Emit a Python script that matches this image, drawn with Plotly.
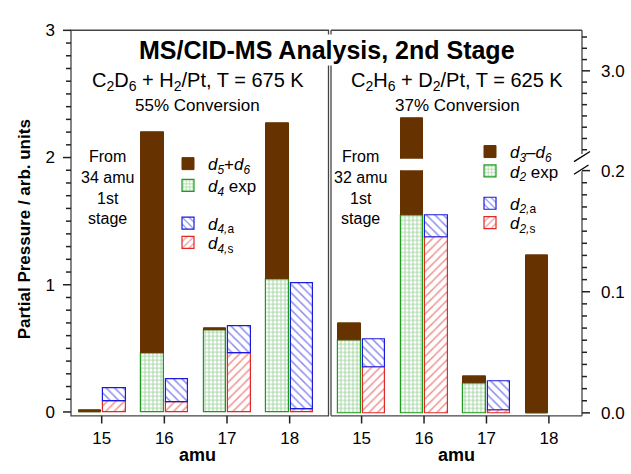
import plotly.graph_objects as go

# ---------------- data ----------------
amu = [15, 16, 17, 18]

# Left panel: C2D6 + H2/Pt, T = 675 K (segment heights)
left_d4_exp = [0.0, 0.46, 0.64, 1.045]
left_d56 = [0.015, 1.74, 0.017, 1.225]      # stacked on top of d4 exp
left_d4s = [0.086, 0.073, 0.465, 0.023]
left_d4a = [0.101, 0.182, 0.207, 0.992]     # stacked on top of d4,s

# Right panel: C2H6 + D2/Pt, T = 625 K (segment heights)
right_d2_exp = [0.060, 0.163, 0.0245, 0.0]
right_d36 = [0.014, 2.417, 0.006, 0.13]     # stacked on top of d2 exp
right_d2s = [0.0377, 0.1445, 0.002, None]
right_d2a = [0.0229, 0.0185, 0.024, None]   # stacked on top of d2,s

left_names = ["<i>d</i><sub><i>5</i></sub>+<i>d</i><sub><i>6</i></sub>",
              "<i>d</i><sub><i>4</i></sub> exp",
              "<i>d</i><sub><i>4,</i>a</sub>",
              "<i>d</i><sub><i>4,</i>s</sub>"]
right_names = ["<i>d</i><sub><i>3</i></sub>–<i>d</i><sub><i>6</i></sub>",
               "<i>d</i><sub><i>2</i></sub> exp",
               "<i>d</i><sub><i>2,</i>a</sub>",
               "<i>d</i><sub><i>2,</i>s</sub>"]

# ---------------- style ----------------
W, H = 631, 474
FONT = "Liberation Sans, Arial, Helvetica, sans-serif"
BROWN = "#663300"
GREEN = "#1f9a1f"
BLUE = "#1a1ae0"
RED = "#e02828"
AX = "#444444"
TK = "#222222"
BW = 0.36

# axis geometry (pixels) and ranges
L_X0, L_X1, R_X0, R_X1 = 71, 328.5, 331, 582
BOT, TOP, R_LOW_TOP, R_UP_BOT = 421, 22, 167, 155
XR_L = [14.51, 18.62]
XR_R = [14.51, 18.53]
YR_L = [-0.03, 3.0005]
YR_R = [-0.0024, 0.2002]
YR_U = [2.22, 3.36]


def px(x):
    return x / W


def py(y):
    return 1 - y / H


fig = go.Figure()


def add_panel(xa, ya, exp, top, s, a, names, legs, showlegend):
    fig.add_trace(go.Bar(
        x=amu, y=exp, offset=-0.37, width=BW, xaxis=xa, yaxis=ya,
        name=names[1], legend=legs[1], showlegend=showlegend,
        marker=dict(color="white", line=dict(color=GREEN, width=1.2),
                    pattern=dict(shape="+", fgcolor=GREEN, bgcolor="white",
                                 size=4, solidity=0.35))))
    fig.add_trace(go.Bar(
        x=amu, y=top, base=exp, offset=-0.37, width=BW, xaxis=xa, yaxis=ya,
        name=names[0], legend=legs[0], showlegend=showlegend,
        marker=dict(color=BROWN, line=dict(color=BROWN, width=1))))
    fig.add_trace(go.Bar(
        x=amu, y=s, offset=0.02, width=BW, xaxis=xa, yaxis=ya,
        name=names[3], legend=legs[3], showlegend=showlegend,
        marker=dict(color="white", line=dict(color=RED, width=1.2),
                    pattern=dict(shape="/", fgcolor=RED, bgcolor="white",
                                 size=6, solidity=0.25))))
    fig.add_trace(go.Bar(
        x=amu, y=a, base=s, offset=0.02, width=BW, xaxis=xa, yaxis=ya,
        name=names[2], legend=legs[2], showlegend=showlegend,
        marker=dict(color="white", line=dict(color=BLUE, width=1.2),
                    pattern=dict(shape="\\", fgcolor=BLUE, bgcolor="white",
                                 size=6, solidity=0.25))))


add_panel("x", "y", left_d4_exp, left_d56, left_d4s, left_d4a,
          left_names, ["legend", "legend2", "legend3", "legend4"], True)
add_panel("x2", "y2", right_d2_exp, right_d36, right_d2s, right_d2a,
          right_names, ["legend5", "legend6", "legend7", "legend8"], True)
add_panel("x3", "y3", right_d2_exp, right_d36, right_d2s, right_d2a,
          right_names, ["legend5", "legend6", "legend7", "legend8"], False)

tickfont = dict(family=FONT, size=17, color="black")
plain = dict(showgrid=False, zeroline=False, showline=False, ticks="",
             tickfont=tickfont)

leg_common = dict(xanchor="left", yanchor="middle", bgcolor="rgba(0,0,0,0)",
                  font=dict(family=FONT, size=17), itemclick=False,
                  borderwidth=0)
legends = {}
left_leg_y = [160.5, 183, 222, 242]
right_leg_y = [148, 168, 201.5, 221.5]
for i, yy in enumerate(left_leg_y):
    key = "legend" if i == 0 else "legend%d" % (i + 1)
    legends[key] = dict(x=px(168), y=py(yy), **leg_common)
for i, yy in enumerate(right_leg_y):
    legends["legend%d" % (i + 5)] = dict(x=px(470), y=py(yy), **leg_common)

fig.update_layout(
    width=W, height=H, margin=dict(l=0, r=0, t=0, b=0),
    paper_bgcolor="white", plot_bgcolor="rgba(0,0,0,0)",
    barmode="overlay", bargap=0,
    font=dict(family=FONT, color="black"),
    xaxis=dict(domain=[px(L_X0), px(L_X1)], range=XR_L, anchor="y",
               tickvals=amu, ticklabelstandoff=10, fixedrange=True, **plain),
    yaxis=dict(domain=[py(BOT), py(TOP)], range=YR_L, anchor="x",
               dtick=1, tick0=0, ticklabelstandoff=15, fixedrange=True,
               **plain),
    xaxis2=dict(domain=[px(R_X0), px(R_X1)], range=XR_R, anchor="y2",
                tickvals=amu, ticklabelstandoff=10, fixedrange=True, **plain),
    yaxis2=dict(domain=[py(BOT), py(R_LOW_TOP)], range=YR_R, anchor="x2",
                side="right", dtick=0.1, tick0=0, tickformat=".1f",
                ticklabelstandoff=18, fixedrange=True, **plain),
    xaxis3=dict(domain=[px(R_X0), px(R_X1)], range=XR_R, anchor="y3",
                showticklabels=False, fixedrange=True, **plain),
    yaxis3=dict(domain=[py(R_UP_BOT), py(TOP)], range=YR_U, anchor="x3",
                side="right", tick0=0, dtick=1, tickformat=".1f",
                ticklabelstandoff=18, fixedrange=True, **plain),
    showlegend=True,
    **legends,
)

# frames
line = dict(color=AX, width=1.3)
shapes = [
    dict(type="rect", xref="paper", yref="paper", x0=px(L_X0), x1=px(L_X1),
         y0=py(BOT), y1=py(TOP), line=line, fillcolor="rgba(0,0,0,0)"),
    dict(type="line", xref="paper", yref="paper", x0=px(R_X0), x1=px(R_X0),
         y0=py(BOT), y1=py(TOP), line=line),
    dict(type="line", xref="paper", yref="paper", x0=px(R_X0), x1=px(R_X1),
         y0=py(TOP), y1=py(TOP), line=line),
    dict(type="line", xref="paper", yref="paper", x0=px(R_X0), x1=px(R_X1),
         y0=py(BOT), y1=py(BOT), line=line),
    dict(type="line", xref="paper", yref="paper", x0=px(R_X1), x1=px(R_X1),
         y0=py(TOP), y1=py(150), line=line),
    dict(type="line", xref="paper", yref="paper", x0=px(R_X1), x1=px(R_X1),
         y0=py(168), y1=py(BOT), line=line),
    dict(type="line", xref="paper", yref="paper", x0=px(574), x1=px(590),
         y0=py(158), y1=py(147.5), line=dict(color="black", width=1.3)),
    dict(type="line", xref="paper", yref="paper", x0=px(574), x1=px(588.5),
         y0=py(171), y1=py(161.5), line=dict(color="black", width=1.3)),
]

# axis ticks, placed in each axis' domain frame from the axis ranges
MAJ, MIN = 8, 5


def ytick_shapes(xd, yd, rng, width_px, step, count, start, major_every,
                 right):
    out = []
    for i in range(count + 1):
        v = start + i * step
        if v < rng[0] - 1e-9 or v > rng[1] + 1e-9:
            continue
        f = (v - rng[0]) / (rng[1] - rng[0])
        ln = MAJ if (round(v / step) % major_every == 0) else MIN
        if right:
            x0, x1 = 1.0, 1.0 + ln / width_px
        else:
            x0, x1 = -ln / width_px, 0.0
        out.append(dict(type="line", xref=xd, yref=yd, x0=x0, x1=x1,
                        y0=f, y1=f, layer="above",
                        line=dict(color=TK, width=1.5)))
    return out


def xtick_shapes(xd, yd, rng, height_px):
    out = []
    for t in amu:
        f = (t - rng[0]) / (rng[1] - rng[0])
        out.append(dict(type="line", xref=xd, yref=yd, x0=f, x1=f,
                        y0=-MAJ / height_px, y1=0, layer="above",
                        line=dict(color=TK, width=1.5)))
    return out


lw, rw = L_X1 - L_X0, R_X1 - R_X0
shapes += ytick_shapes("x domain", "y domain", YR_L, lw, 0.1, 30, 0.0, 10,
                       False)
shapes += ytick_shapes("x2 domain", "y2 domain", YR_R, rw, 0.01, 20, 0.0, 10,
                       True)
shapes += ytick_shapes("x3 domain", "y3 domain", YR_U, rw, 0.1, 12, 2.2, 10,
                       True)
shapes += xtick_shapes("x domain", "y domain", XR_L, BOT - TOP)
shapes += xtick_shapes("x2 domain", "y2 domain", XR_R, BOT - R_LOW_TOP)
fig.update_layout(shapes=shapes)


def ann(text, x, y, size, bold=False, **kw):
    fig.add_annotation(text=("<b>%s</b>" % text) if bold else text,
                       x=px(x), y=py(y), xref="paper", yref="paper",
                       xanchor="center", yanchor="middle", showarrow=False,
                       font=dict(family=FONT, size=size, color="black"), **kw)


ann("MS/CID-MS Analysis, 2nd Stage", 327, 42, 25, bold=True,
    bgcolor="white", borderpad=1)
ann("C<sub>2</sub>D<sub>6</sub> + H<sub>2</sub>/Pt, T = 675 K", 198, 75, 20)
ann("55% Conversion", 197.5, 100, 17)
ann("C<sub>2</sub>H<sub>6</sub> + D<sub>2</sub>/Pt, T = 625 K", 457, 75, 20)
ann("37% Conversion", 457.5, 100, 17)
ann("From<br>34 amu<br>1st<br>stage", 107, 185, 16)
ann("From<br>32 amu<br>1st<br>stage", 360, 185, 16)
ann("amu", 197, 462, 18, bold=True)
ann("amu", 456, 462, 18, bold=True)
ann("Partial Pressure / arb. units", 24, 228, 17, bold=True, textangle=-90)

fig.write_html("out.html")
